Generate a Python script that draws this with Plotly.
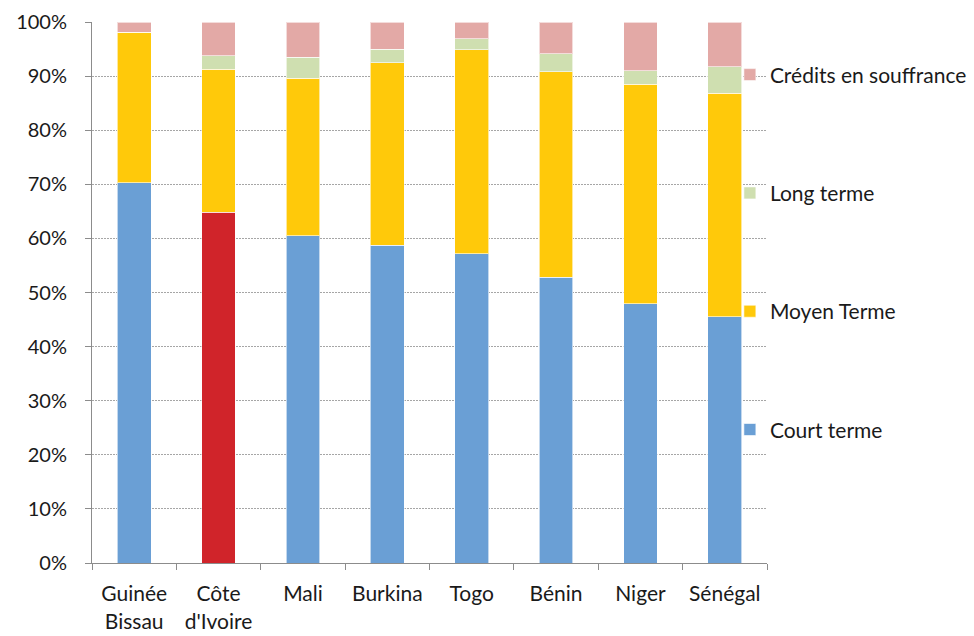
import plotly.graph_objects as go

COUNTRIES = ["Guinée<br>Bissau", "Côte<br>d'Ivoire", "Mali", "Burkina", "Togo",
             "Bénin", "Niger", "Sénégal"]
COURT = [70.3, 64.8, 60.5, 58.7, 57.2, 52.8, 47.9, 45.5]
MOYEN = [27.8, 26.5, 29.1, 33.8, 37.7, 38.0, 40.6, 41.3]
LONG = [0.0, 2.5, 3.9, 2.5, 2.0, 3.3, 2.5, 4.9]
CREDITS = [1.9, 6.2, 6.5, 5.0, 3.1, 5.9, 9.0, 8.3]

BLUE = "#6a9fd5"
RED = "#d0242a"
YELLOW = "#ffc90a"
GREEN = "#cfdfb0"
PINK = "#e3a9a6"
INK = "#1a1a1a"
AXIS = "#8c8c8c"
FONT = "Lato, 'Open Sans', sans-serif"

court_colors = [RED if c.startswith("Côte") else BLUE for c in COUNTRIES]

series = [
    ("Court terme", COURT, court_colors, 4),
    ("Moyen Terme", MOYEN, YELLOW, 3),
    ("Long terme", LONG, GREEN, 2),
    ("Crédits en souffrance", CREDITS, PINK, 1),
]

fig = go.Figure()
for name, vals, color, rank in series:
    fig.add_trace(go.Bar(
        x=COUNTRIES, y=vals, name=name, legendgroup=name, legendrank=rank,
        marker=dict(color=color, line=dict(color="rgba(255,255,255,0.6)", width=1)),
    ))

fig.update_layout(
    width=974, height=636,
    barmode="stack", bargap=0.6,
    paper_bgcolor="white", plot_bgcolor="white",
    font=dict(family=FONT, size=20, color=INK),
    margin=dict(l=92, r=207, t=22, b=73, autoexpand=False),
    legend=dict(x=0.945, xanchor="left", y=0.94, yanchor="top",
                traceorder="grouped", tracegroupgap=88,
                bgcolor="rgba(0,0,0,0)",
                font=dict(size=21), itemwidth=30),
)
fig.update_xaxes(showline=True, linecolor=AXIS, linewidth=1,
                 ticks="outside", tickson="boundaries", ticklen=6,
                 tickcolor=AXIS, showgrid=False,
                 tickfont=dict(size=21), ticklabelstandoff=12)
fig.update_yaxes(range=[0, 100], dtick=10, ticksuffix="%",
                 showline=True, linecolor=AXIS, linewidth=1,
                 ticks="outside", ticklen=6, tickcolor=AXIS,
                 ticklabelstandoff=14,
                 showgrid=True, gridcolor="#a6a6a6", griddash="2px,1px",
                 gridwidth=1, zeroline=False)

# drop the default 8px page margin so the figure fills the window exactly
fig.write_html("out.html", config={"displayModeBar": False},
               post_script="document.body.style.margin='0';"
                           "document.body.style.overflow='hidden';")
